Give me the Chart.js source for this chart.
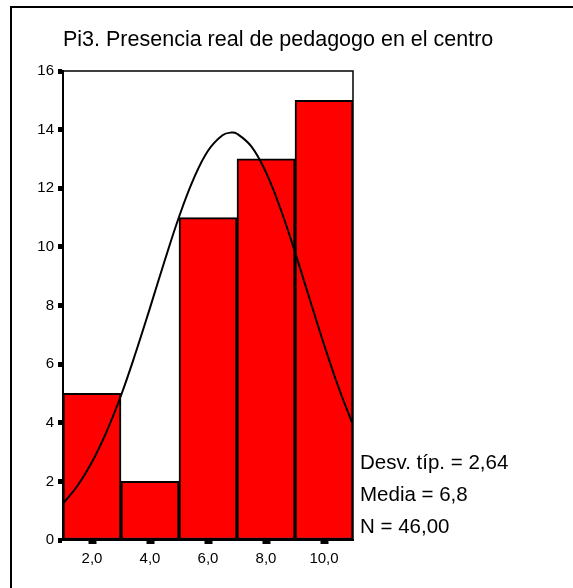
<!DOCTYPE html>
<html>
<head>
<meta charset="utf-8">
<script src="https://cdn.jsdelivr.net/npm/chart.js@4/dist/chart.umd.min.js"></script>
<style>
  body { margin: 0; background: #fff; }
  #wrap { width: 573px; height: 588px; }
</style>
</head>
<body>
<div id="wrap"><canvas id="hist_chart" width="573" height="588"></canvas></div>
<script>
var titleText = "Pi3. Presencia real de pedagogo en el centro";
var binCenters = [2, 4, 6, 8, 10];
var binCounts = [5, 2, 11, 13, 15];
var curveX = [1, 1.5, 2, 2.5, 3, 3.5, 4, 4.5, 5, 5.5, 6, 6.5, 6.8, 7, 7.5, 8, 8.5, 9, 9.5, 10, 10.5, 11];
var curveY = [1.24, 1.85, 2.66, 3.69, 4.93, 6.37, 7.92, 9.51, 11.02, 12.31, 13.28, 13.81, 13.9, 13.86, 13.42, 12.54, 11.30, 9.82, 8.24, 6.67, 5.21, 3.92];
var yTicks = [0, 2, 4, 6, 8, 10, 12, 14, 16];
var xTicks = [2, 4, 6, 8, 10];
var statsLines = ["Desv. típ. = 2,64", "Media = 6,8", "N = 46,00"];

var fontFam = 'Arial, "Liberation Sans", sans-serif';

var dataBar = binCenters.map(function(c, i){ return {x: c, y: binCounts[i]}; });
var dataCurve = curveX.map(function(c, i){ return {x: c, y: curveY[i]}; });

// frame, title, plot box and stats text
var decorPlugin = {
  id: 'decor',
  beforeDatasetsDraw: function(chart){
    var ctx = chart.ctx, a = chart.chartArea;
    ctx.save();
    ctx.strokeStyle = "#000";
    ctx.lineWidth = 1.5;
    ctx.beginPath();
    ctx.moveTo(a.left, a.top);
    ctx.lineTo(a.right, a.top);
    ctx.lineTo(a.right, a.bottom);
    ctx.stroke();
    ctx.restore();
  },
  afterDraw: function(chart){
    var ctx = chart.ctx;
    ctx.save();
    ctx.strokeStyle = "#000";
    ctx.lineWidth = 2;
    ctx.beginPath();
    ctx.moveTo(11, 588);
    ctx.lineTo(11, 7);
    ctx.lineTo(573, 7);
    ctx.stroke();

    ctx.fillStyle = "#000";
    ctx.font = "21.5px " + fontFam;
    ctx.textBaseline = "alphabetic";
    ctx.textAlign = "left";
    ctx.fillText(titleText, 63, 46);

    ctx.font = "20.5px " + fontFam;
    ctx.textBaseline = "middle";
    statsLines.forEach(function(t, i){
      ctx.fillText(t, 360, 463 + i * 32);
    });
    ctx.restore();
  }
};

function start(){
  var ctx = document.getElementById("hist_chart").getContext("2d");
  new Chart(ctx, {
    data: {
      datasets: [
        {
          type: 'line',
          data: dataCurve,
          borderColor: "#000",
          borderWidth: 2,
          pointRadius: 0,
          tension: 0.4,
          fill: false,
          order: 0
        },
        {
          type: 'bar',
          data: dataBar,
          backgroundColor: "#FF0000",
          borderColor: "#000",
          borderWidth: 2,
          borderSkipped: false,
          barPercentage: 1,
          categoryPercentage: 1,
          order: 1
        }
      ]
    },
    options: {
      responsive: false,
      animation: false,
      layout: { padding: { left: 0, right: 220, top: 71, bottom: 0 } },
      plugins: { legend: { display: false }, tooltip: { enabled: false } },
      scales: {
        x: {
          type: 'linear',
          min: 1,
          max: 11,
          offset: false,
          afterFit: function(s){ s.height = 48; },
          afterBuildTicks: function(s){ s.ticks = xTicks.map(function(v){ return {value: v}; }); },
          ticks: {
            color: "#000",
            font: { family: fontFam, size: 15 },
            padding: 6,
            callback: function(v){ return v.toFixed(1).replace('.', ','); }
          },
          grid: { offset: false, drawOnChartArea: false, color: "#000", tickLength: 4, tickWidth: 8 },
          border: { color: "#000", width: 2 }
        },
        y: {
          min: 0,
          max: 16,
          afterFit: function(s){ s.width = 63; },
          afterBuildTicks: function(s){ s.ticks = yTicks.map(function(v){ return {value: v}; }); },
          ticks: {
            color: "#000",
            font: { family: fontFam, size: 15 },
            padding: 4
          },
          grid: { drawOnChartArea: false, color: "#000", tickLength: 5, tickWidth: 5 },
          border: { color: "#000", width: 2 }
        }
      }
    },
    plugins: [decorPlugin]
  });
}

window.onload = start;
</script>
</body>
</html>
